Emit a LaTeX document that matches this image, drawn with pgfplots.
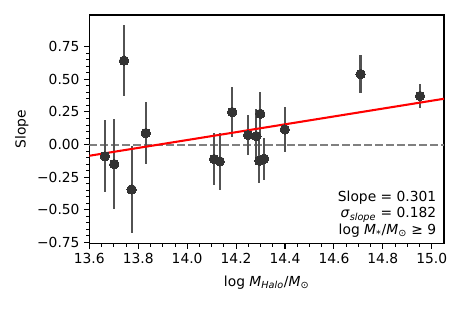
\documentclass[border=0pt]{standalone}
\usepackage{fontspec}
\setmainfont{DejaVu Sans}
\usepackage{pgfplots}
\pgfplotsset{compat=1.18}
\usepackage{pgfplotstable}
\pgfplotstableread{
x y e
13.664 -0.090 0.275
13.702 -0.150 0.345
13.742 0.643 0.270
13.773 -0.344 0.335
13.831 0.088 0.235
14.110 -0.111 0.200
14.133 -0.129 0.220
14.184 0.249 0.190
14.249 0.073 0.155
14.283 0.065 0.210
14.295 -0.124 0.170
14.299 0.236 0.170
14.315 -0.109 0.160
14.399 0.116 0.170
14.709 0.540 0.143
14.952 0.372 0.090
}\data
\begin{document}
\begin{tikzpicture}[font=\fontsize{10}{12}\selectfont]
\begin{axis}[
  scale only axis, width=3.547in, height=2.287in,
  xmin=13.6, xmax=15.05, ymin=-0.76, ymax=0.993,
  xtick={13.6,13.8,14.0,14.2,14.4,14.6,14.8,15.0},
  xticklabels={13.6,13.8,14.0,14.2,14.4,14.6,14.8,15.0},
  ytick={-0.75,-0.5,-0.25,0,0.25,0.5,0.75},
  yticklabels={−0.75,−0.50,−0.25,0.00,0.25,0.50,0.75},
  minor x tick num=3, minor y tick num=4,
  tick align=outside, tick pos=left,
  major tick length=0.049in, minor tick length=0.028in,
  every tick/.style={black, line width=0.8pt},
  every minor tick/.style={black, line width=0.6pt},
  axis line style={line width=0.8pt},
  xlabel={log \textit{M}\textsubscript{\textit{Halo}}/\textit{M}\textsubscript{⊙}},
  ylabel={Slope},
  xlabel style={at={(axis description cs:0.5,-0.185)}, anchor=base, inner sep=0pt},
  ylabel style={at={(axis description cs:-0.19,0.5)}, anchor=center, inner sep=0pt},
  clip=true,
]
\addplot[gray, line width=1.5pt, dash pattern=on 5.55pt off 2.4pt] coordinates {(13.6,0) (15.05,0)};
\addplot[only marks, mark=none, line width=1.6pt, color=black!68,
  error bars/.cd, y dir=both, y explicit, error mark=none,
  error bar style={line width=1.6pt, color=black!68}]
  table[x=x, y=y, y error=e] {\data};
\addplot[only marks, mark=*, mark size=3.4pt,
  mark options={solid, fill=black!80, draw=black!80, line width=0pt}]
  table[x=x, y=y] {\data};
\addplot[red, line width=1.5pt] coordinates {(13.6,-0.086) (15.05,0.351)};
\node[anchor=south east, align=right, inner sep=0pt, font=\fontsize{10}{12.2}\selectfont]
  at (rel axis cs:0.979,0.025)
  {Slope = 0.301\\ \textit{σ}\textsubscript{\textit{slope}} = 0.182\\ log \textit{M}\textsubscript{*}/\textit{M}\textsubscript{⊙} ≥ 9};
\end{axis}
\path ([xshift=-0.893in, yshift=-0.663in]current axis.south west) rectangle ([xshift=0.19in, yshift=0.15in]current axis.north east);
\end{tikzpicture}
\end{document}
